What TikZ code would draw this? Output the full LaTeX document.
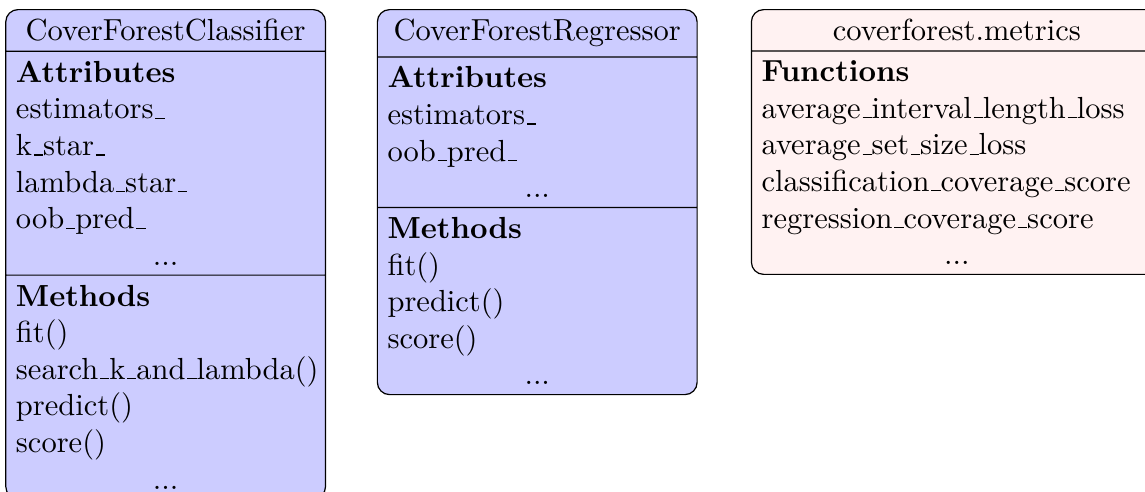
\documentclass[tikz,border=0pt]{standalone}
\usetikzlibrary{shapes.multipart,positioning}

\newcommand{\uscore}{\leavevmode\kern.06em\vbox{\hrule width.3em}}
\newcommand{\moredots}{\\ \hspace*{\fill}...\hspace*{\fill}\null}

\tikzset{
    classbox/.style={draw, rounded corners, rectangle split, rectangle split parts=3,
        fill=blue!20, text width=3.45cm, inner ysep=3pt},
    modbox/.style={draw, rounded corners, rectangle split, rectangle split parts=2,
        fill=red!5, text width=4.5cm, inner ysep=3pt},
}

\begin{document}
\begin{tikzpicture}
    \useasboundingbox (0,0) rectangle (375.4pt,-161pt);

    \node[classbox, anchor=north west] (clf) at (1.7pt,-2.95pt)
        {\centering CoverForestClassifier\par
        \nodepart{two}\raggedright\textbf{Attributes}\\ estimators\uscore\\ k\uscore star\uscore\\
        lambda\uscore star\uscore\\ oob\uscore pred\uscore\moredots
        \nodepart{three}\raggedright\textbf{Methods}\\ fit()\\ search\uscore k\uscore and\uscore lambda()\\
        predict()\\ score()\moredots};

    \node[classbox, right=16.6pt of clf.north east, anchor=north west] (reg)
        {\centering CoverForestRegressor\par
        \nodepart{two}\raggedright\textbf{Attributes}\\ estimators\uscore\\ oob\uscore pred\uscore\moredots
        \nodepart{three}\raggedright\textbf{Methods}\\ fit()\\ predict()\\ score()\moredots};

    \node[modbox, right=17.4pt of reg.north east, anchor=north west] (met)
        {\centering coverforest.metrics\par
        \nodepart{two}\raggedright\textbf{Functions}\\ average\uscore interval\uscore length\uscore loss\\
        average\uscore set\uscore size\uscore loss\\ classification\uscore coverage\uscore score\\
        regression\uscore coverage\uscore score\moredots};
\end{tikzpicture}
\end{document}
